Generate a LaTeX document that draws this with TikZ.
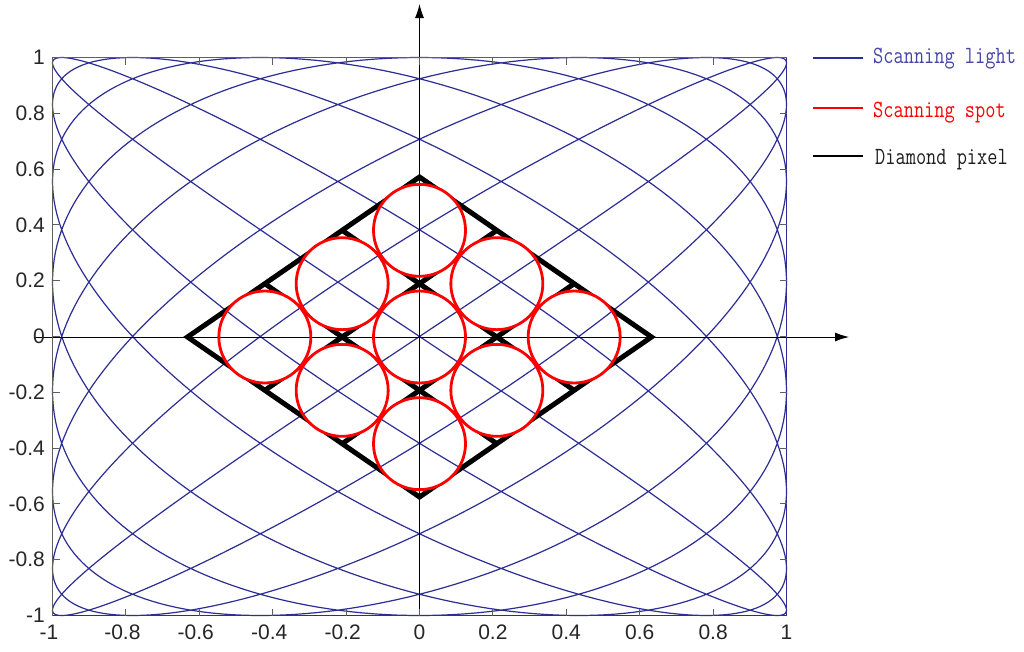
\documentclass[tikz,border=0pt]{standalone}
\usepackage{fontspec}
\setmainfont{Liberation Sans}
\usetikzlibrary{arrows.meta}
\definecolor{scanblue}{RGB}{45,45,150}
\definecolor{legblue}{RGB}{70,70,170}
\definecolor{boxgray}{RGB}{95,95,95}
\definecolor{legblack}{RGB}{30,30,30}
\begin{document}
\begin{tikzpicture}[x=1pt,y=-1pt,
  scan/.style={scanblue, line width=1.2pt, line join=round},
  pix/.style={black, line width=5pt},
  spot/.style={red, line width=2.8pt},
  axisline/.style={black, line width=0.9pt, -{Latex[length=14pt,width=9pt]}},
  tickmark/.style={boxgray, line width=1pt},
  ticklabel/.style={font=\fontsize{21}{25}\selectfont, inner sep=0pt, text=black!85},
  legtext/.style={font=\fontsize{19.8}{22}\ttfamily, inner sep=0pt, anchor=base west}]
\useasboundingbox (0,0) rectangle (1024,651);
\fill[white] (0,0) rectangle (1024,651);

% scanning light (Lissajous 8:7)
\draw[scan] plot[domain=0:360, samples=1601, variable=\t]
  ({419.5+367*cos(8*\t)}, {336.5-279*cos(7*\t+11.25)});

% diamond pixel: outline and inner grid
\coordinate (L) at (187.5,337);
\coordinate (T) at (419.5,177);
\coordinate (R) at (651.5,337);
\coordinate (B) at (419.5,497);
\draw[pix, line join=miter] (L) -- (T) -- (R) -- (B) -- cycle;
\foreach \s in {-0.5,0.5} {
  \draw[pix] ({419.5+(\s-1.5)*77.333},{337+(-1.5-\s)*53.333}) -- ({419.5+(\s+1.5)*77.333},{337+(1.5-\s)*53.333});
  \draw[pix] ({419.5+(\s-1.5)*77.333},{337+(\s+1.5)*53.333}) -- ({419.5+(\s+1.5)*77.333},{337+(\s-1.5)*53.333});
}

% hide the pixel grid inside the spots, then redraw light inside them
\fill[white] \foreach \i in {-1,0,1}{\foreach \j in {-1,0,1}{
  ({419.5+(\i+\j)*77.333},{337+(\j-\i)*53.333}) circle[radius=46pt] }};
\begin{scope}
  \clip \foreach \i in {-1,0,1}{\foreach \j in {-1,0,1}{
    ({419.5+(\i+\j)*77.333},{337+(\j-\i)*53.333}) circle[radius=46pt] }};
  \draw[scan] plot[domain=0:360, samples=1601, variable=\t]
    ({419.5+367*cos(8*\t)}, {336.5-279*cos(7*\t+11.25)});
\end{scope}

% axes with arrows
\coordinate (xstart) at (35,337);
\coordinate (xend) at (849,337);
\coordinate (ystart) at (419.5,615.5);
\coordinate (yend) at (419.5,4);
\draw[axisline] (xstart) -- (xend);
\draw[axisline] (ystart) -- (yend);

% scanning spots
\foreach \i in {-1,0,1}{\foreach \j in {-1,0,1}{
  \draw[spot] ({419.5+(\i+\j)*77.333},{337+(\j-\i)*53.333}) circle[radius=46pt];
}}

% plot box
\draw[boxgray, line width=1.2pt] (52.5,615.5) -- (52.5,57.5) -- (786.5,57.5);
\draw[scanblue, line width=1.6pt] (52.5,615.5) -- (786.5,615.5) -- (786.5,57.5);
\foreach \k in {-4,...,4} {
  \draw[tickmark] ({419.5+73.4*\k},615.5) -- ++(0,-7);
  \draw[tickmark] ({419.5+73.4*\k},57.5) -- ++(0,7);
  \draw[tickmark] (52.5,{336.5-55.8*\k}) -- ++(7,0);
  \draw[tickmark] (786.5,{336.5-55.8*\k}) -- ++(-7,0);
}

% tick labels
\foreach \k/\lab in {-5/{\llap{-}1},-4/{\llap{-}0.8},-3/{\llap{-}0.6},-2/{\llap{-}0.4},-1/{\llap{-}0.2},0/0,1/0.2,2/0.4,3/0.6,4/0.8,5/1} {
  \node[ticklabel, anchor=north] (xl\k) at ({419.5+73.4*\k},625) {\lab};
}
\foreach \k/\lab in {-5/-1,-4/-0.8,-3/-0.6,-2/-0.4,-1/-0.2,0/0,1/0.2,2/0.4,3/0.6,4/0.8,5/1} {
  \node[ticklabel, anchor=east] (yl\k) at (45,{336.5-55.8*\k}) {\lab};
}

% legend
\coordinate (lg1a) at (813,58); \coordinate (lg1b) at (863,58);
\coordinate (lg2a) at (813,108); \coordinate (lg2b) at (863,108);
\coordinate (lg3a) at (813,156); \coordinate (lg3b) at (863,156);
\draw[scanblue, line width=2pt] (lg1a) -- (lg1b);
\draw[red, line width=2.8pt] (lg2a) -- (lg2b);
\draw[black, line width=2.8pt] (lg3a) -- (lg3b);
\node[legtext, text=legblue] (leg1) at (873,63.5) {\scalebox{1}[1.25]{Scanning light}};
\node[legtext, text=red] (leg2) at (873,117.5) {\scalebox{1}[1.25]{Scanning spot}};
\node[legtext, text=legblack] (leg3) at (875,164) {\scalebox{1}[1.25]{Diamond pixel}};
\end{tikzpicture}
\end{document}
